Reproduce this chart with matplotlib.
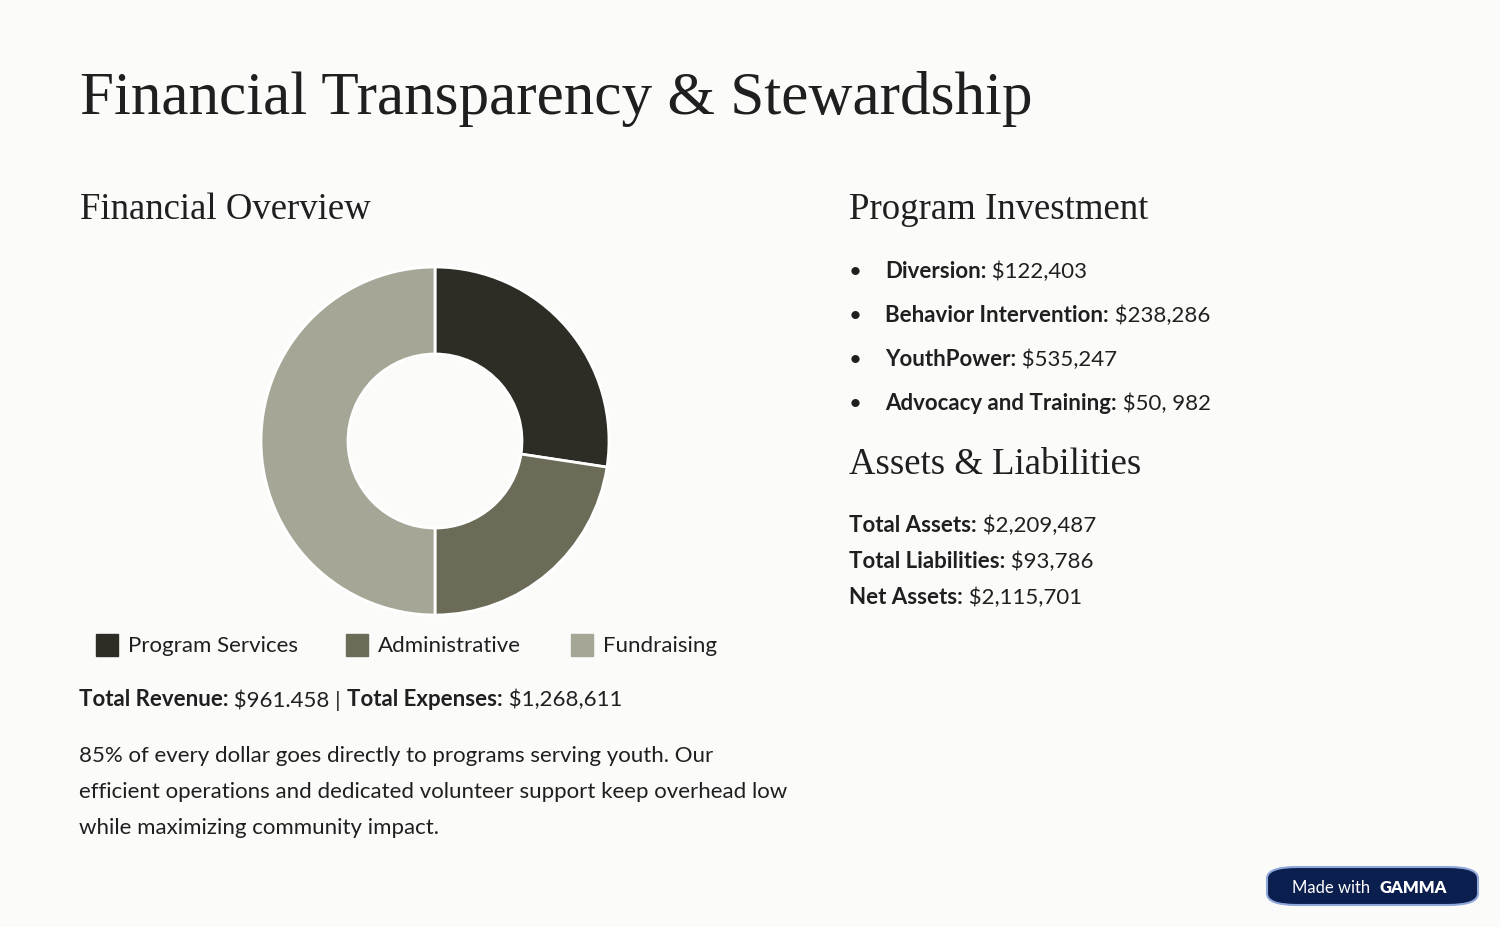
import matplotlib
matplotlib.use("Agg")
import matplotlib.pyplot as plt
from matplotlib.patches import FancyBboxPatch, Rectangle

categories = ["Program Services", "Administrative", "Fundraising"]
shares = [27.4, 22.6, 50.0]
colors = ["#2d2d26", "#6b6b58", "#a6a696"]
programs = [("Diversion:", " $122,403"), ("Behavior Intervention:", " $238,286"),
            ("YouthPower:", " $535,247"), ("Advocacy and Training:", " $50, 982")]
assets = [("Total Assets:", " $2,209,487"), ("Total Liabilities:", " $93,786"),
          ("Net Assets:", " $2,115,701")]

W, H = 1500, 928
fig = plt.figure(figsize=(15, 9.28), dpi=100)
fig.patch.set_facecolor("#fbfbfa")
r = fig.canvas.get_renderer()
SERIF = ["Liberation Serif", "DejaVu Serif"]
SANS = ["Lato", "DejaVu Sans"]
TXT = "#1f1f1f"
FS = 16

def fx(px): return px / W
def fy(py): return 1 - py / H

def t(px, py, s, size, weight="normal", family=SANS, color=TXT):
    return fig.text(fx(px), fy(py), s, fontsize=size, fontweight=weight, family=family,
                    color=color, va="center", ha="left")

def mixed(px, py, parts, size):
    x = px
    for s, w in parts:
        tt = t(x, py, s, size, w)
        x += tt.get_window_extent(r).width

t(80, 99, "Financial Transparency & Stewardship", 44, family=SERIF)
t(80, 210, "Financial Overview", 26.5, family=SERIF)
t(849, 210, "Program Investment", 26.5, family=SERIF)
t(849, 465, "Assets & Liabilities", 26.5, family=SERIF)

cx, cy, R = 435, 442, 174
ax = fig.add_axes([fx(cx - R), fy(cy + R), 2 * R / W, 2 * R / H])
ax.pie(shares, colors=colors, startangle=90, counterclock=False, radius=1,
       wedgeprops=dict(width=0.5, edgecolor="white", linewidth=2))
ax.set_xlim(-1, 1); ax.set_ylim(-1, 1)
ax.axis("off")

lx = [96, 346, 571]
for x, c, lab in zip(lx, colors, categories):
    fig.patches.append(Rectangle((fx(x), fy(657)), 22 / W, 22 / H, color=c,
                                 transform=fig.transFigure, figure=fig))
    t(x + 32, 646, lab, FS)

mixed(79, 700, [("Total Revenue:", "bold"), (" $961.458 | ", "normal"),
                ("Total Expenses:", "bold"), (" $1,268,611", "normal")], FS)
for i, line in enumerate(["85% of every dollar goes directly to programs serving youth. Our",
                          "efficient operations and dedicated volunteer support keep overhead low",
                          "while maximizing community impact."]):
    t(79, 756 + 36 * i, line, FS)

for i, (b, v) in enumerate(programs):
    y = 272 + 44 * i
    t(849, y, "•", FS)
    mixed(885, y, [(b, "bold"), (v, "normal")], FS)
for i, (b, v) in enumerate(assets):
    mixed(849, 526 + 36 * i, [(b, "bold"), (v, "normal")], FS)

fig.patches.append(FancyBboxPatch((fx(1267), fy(906)), 211 / W, 38 / H,
                                  boxstyle="round,pad=0,rounding_size=0.02",
                                  transform=fig.transFigure, figure=fig,
                                  facecolor="#0b1f4f", edgecolor="#8fa6d8", linewidth=1.5,
                                  mutation_aspect=H / W))
fig.text(fx(1292), fy(888), "Made with", fontsize=12, color="white", family=SANS, va="center")
fig.text(fx(1380), fy(888), "GAMMA", fontsize=12, color="white", family=SANS,
         fontweight="heavy", va="center")

fig.savefig("out.png", dpi=100, facecolor=fig.get_facecolor())
